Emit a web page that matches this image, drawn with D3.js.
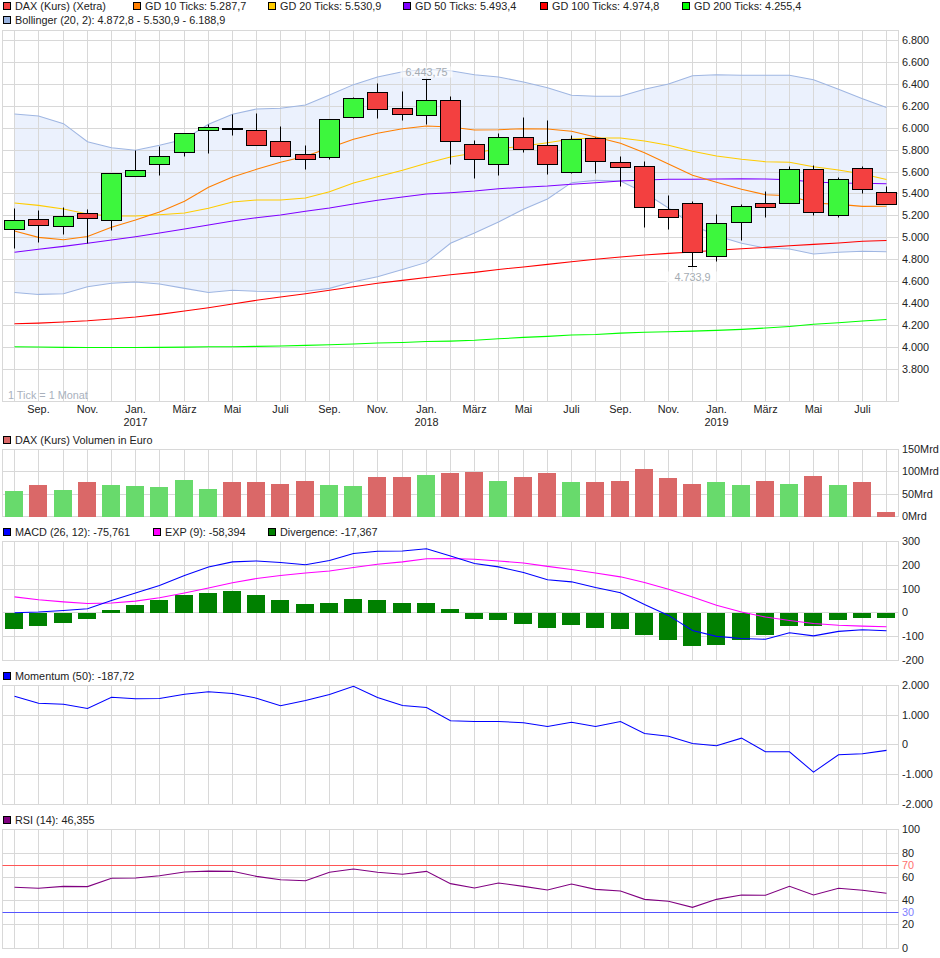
<!DOCTYPE html>
<html>
<head>
<meta charset="utf-8">
<script src="https://cdnjs.cloudflare.com/ajax/libs/d3/7.8.5/d3.min.js"></script>
<style>
  html, body { margin: 0; background: #fff; }
  svg { display: block; font-family: "Liberation Sans", Arial, sans-serif; font-size: 10.85px; }
  text { fill: #222; }
  .grid line, .grid rect { stroke: #d8d8d8; fill: none; }
  .grid text { fill: #222; font-size: 10.85px; }
  .grid .domain { display: none; }
  .linie { fill: none; stroke-width: 1.05; }
</style>
</head>
<body>
<div id="chart"></div>
<script>
// Monate (1 Tick = 1 Monat)
const monate = ["2016-08","2016-09","2016-10","2016-11","2016-12","2017-01","2017-02","2017-03","2017-04","2017-05","2017-06","2017-07","2017-08","2017-09","2017-10","2017-11","2017-12","2018-01","2018-02","2018-03","2018-04","2018-05","2018-06","2018-07","2018-08","2018-09","2018-10","2018-11","2018-12","2019-01","2019-02","2019-03","2019-04","2019-05","2019-06","2019-07","2019-08"]
const monatsNamen = { "01": "Jan.", "03": "März", "05": "Mai", "07": "Juli", "09": "Sep.", "11": "Nov." }

// Kerzen
const kursOpen = [5076,5169,5105,5223,5162,5561,5670,5780,5981,6000,5981,5880,5762,5734,6099,6327,6181,6117,6254,5853,5670,5917,5844,5597,5908,5689,5652,5260,5315,4831,5141,5315,5315,5625,5205,5634,5415]
const kursHigh = [5267,5253,5272,5260,5588,5792,5837,5953,6035,6127,6136,6011,5844,6081,6282,6409,6330,6443.75,6291,5889,5953,6099,6072,5935,5917,5743,5698,5388,5333,5217,5305,5424,5652,5661,5552,5652,5470]
const kursLow = [4907,4955,5034,4950,5065,5561,5566,5746,5767,5931,5844,5731,5621,5712,6086,6086,6068,6038,5667,5539,5566,5776,5576,5585,5585,5466,5096,5077,4733.9,4782,4980,5187,5315,5205,5187,5406,5305]
const kursClose = [5162,5114,5196,5178,5588,5616,5743,5953,6008,5991,5844,5743,5716,6081,6273,6172,6127,6254,5880,5716,5917,5807,5670,5899,5698,5643,5278,5187,4868,5132,5287,5278,5625,5232,5534,5442,5305]

// Gleitende Durchschnitte
const gd10 = [5062,5004,4982,5013,5096,5162,5235,5333,5461,5555,5625,5689,5743,5822,5899,5953,5995,6020,6011,5983,5986,5995,5992,5971,5920,5862,5776,5673,5570,5506,5442,5393,5384,5317,5305,5287,5288]
const gd20 = [5317,5296,5263,5217,5199,5199,5211,5226,5269,5326,5345,5345,5363,5420,5500,5557,5616,5680,5737,5774,5813,5837,5867,5901,5910,5910,5883,5844,5789,5746,5716,5694,5689,5649,5618,5582,5531]
const gd50 = [4868,4895,4922,4950,4980,5010,5044,5080,5117,5153,5183,5208,5242,5272,5308,5342,5372,5399,5411,5427,5448,5461,5472,5488,5503,5518,5527,5534,5534,5536,5539,5536,5530,5509,5500,5497,5493]
const gd100 = [4216,4222,4232,4243,4259,4277,4302,4332,4362,4396,4430,4460,4490,4521,4554,4585,4612,4639,4663,4685,4712,4733,4758,4782,4804,4825,4843,4858,4870,4886,4900,4913,4928,4940,4952,4968,4975]
const gd200 = [4006,4004,4001,3999,3999,3999,4001,4003,4006,4006,4010,4013,4019,4025,4031,4040,4046,4055,4058,4065,4079,4092,4101,4113,4119,4131,4138,4143,4149,4156,4165,4177,4192,4211,4225,4241,4255]

// Bollinger
const bollOben = [6129,6111,6041,5877,5822,5798,5844,5899,6035,6127,6175,6181,6211,6303,6397,6467,6515,6537,6524,6488,6467,6421,6369,6300,6291,6291,6355,6403,6479,6488,6482,6482,6482,6442,6355,6269,6189]
const bollUnten = [4502,4484,4490,4554,4585,4597,4578,4539,4502,4521,4512,4508,4512,4539,4599,4645,4712,4776,4950,5044,5144,5260,5354,5503,5524,5518,5411,5272,5117,5019,4950,4907,4898,4852,4868,4877,4873]

// Volumen in Mrd Euro
const volumen = [56,71,60,76,71,69,65,82,62,76,78,73.5,80,71,67,89,89,93.5,96,100,80,89,96,76,78,80,107,87,73.5,76,71,80,73.5,91,71,76,9]

// MACD
const macd = [0,3,10,17,52,83,115,157,192,214,218,211,202,220,249,259,260,269,239,207,193,169,139,130,106,84,35,-11,-74,-99,-108,-111,-84,-97,-78,-71,-75.8]
const expLinie = [67,55,46,39,41,49,63,83,104,126,144,157,167,176,190,204,214,227,228,225,218,209,195,182,167,151,127,99,66,32,3,-18,-32,-45,-52,-56,-58.4]
const divergenz = [-70,-57,-41,-28,10,31,52,73,85,90,73,52,35,43,56,52,43,43,14,-24,-32,-45,-62,-53,-62,-70,-95,-116,-141,-137,-116,-95,-57,-57,-32,-20,-22]

const momentum = [1635,1400,1366,1220,1600,1545,1557,1700,1780,1725,1568,1310,1490,1690,1970,1590,1320,1254,806,784,784,740,616,760,616,784,380,290,45,-34,224,-235,-235,-918,-336,-302,-188]
const rsi = [51.4,50.6,52.2,52,59,59.2,61.2,64.2,65,64.8,60.6,57.8,57,64,66.8,64,62.3,64.8,54.5,50.8,55,52.2,49.2,54.2,49.7,48.3,41.3,39.7,34.6,41.3,45,44.7,52.2,45,50.6,48.9,46.4]

// Achsen
const ticksKurs = [3800,4000,4200,4400,4600,4800,5000,5200,5400,5600,5800,6000,6200,6400,6600,6800]
const ticksVolumen = [0,50,100,150]
const ticksMacd = [-200,-100,0,100,200,300]
const ticksMomentum = [-2000,-1000,0,1000,2000]
const ticksRsi = [0,20,40,60,80,100]

// Legenden
const legendeKurs = [
    { t: "DAX (Kurs) (Xetra)", c: "#f34040", x: 3, y: 2 },
    { t: "GD 10 Ticks: 5.287,7", c: "#ff7f00", x: 133, y: 2 },
    { t: "GD 20 Ticks: 5.530,9", c: "#ffcc00", x: 268, y: 2 },
    { t: "GD 50 Ticks: 5.493,4", c: "#7f00ff", x: 403, y: 2 },
    { t: "GD 100 Ticks: 4.974,8", c: "#ff0000", x: 540, y: 2 },
    { t: "GD 200 Ticks: 4.255,4", c: "#00ff00", x: 682, y: 2 },
    { t: "Bollinger (20, 2): 4.872,8 - 5.530,9 - 6.188,9", c: "#99b3e0", x: 3, y: 16 },
]
const legendeRest = [
    { t: "DAX (Kurs) Volumen in Euro", c: "#da6868", x: 3, y: 436 },
    { t: "MACD (26, 12): -75,761", c: "#0000ff", x: 3, y: 528 },
    { t: "EXP (9): -58,394", c: "#ff00ff", x: 153, y: 528 },
    { t: "Divergence: -17,367", c: "#008000", x: 268, y: 528 },
    { t: "Momentum (50): -187,72", c: "#0000ff", x: 3, y: 672 },
    { t: "RSI (14): 46,355", c: "#800080", x: 3, y: 816 },
]

const anchoTotal = 940
const altoTotal = 958
const izquierda = 2.5
const derecha = 898.5
const snap = (v) => Math.floor(v) + 0.5
const de = d3.formatLocale({ decimal: ",", thousands: ".", grouping: [3], currency: ["", "€"], minus: "-" })
const fmt = de.format(",")

const svg = d3.select("#chart").append("svg")
    .attr("width", anchoTotal)
    .attr("height", altoTotal)

// Escaladores
const x = d3.scalePoint().domain(monate).range([14.57, 886.49])
const cx = (i) => snap(x(monate[i]))
const yKurs = d3.scaleLinear().domain([3800, 6800]).range([369.4, 40.45])
const yVol = d3.scaleLinear().domain([0, 150]).range([516.5, 449.3])
const yMacd = d3.scaleLinear().domain([-200, 300]).range([660.4, 541.4])
const yMom = d3.scaleLinear().domain([-2000, 2000]).range([804.3, 685.3])
const yRsi = d3.scaleLinear().domain([0, 100]).range([948.6, 829.4])

// Rejilla y ejes de un panel
const panel = (top, bottom, y, ticks, format, conEtiquetas) => {
    const g = svg.append("g").attr("class", "grid")
    g.append("rect")
        .attr("x", izquierda).attr("y", top)
        .attr("width", derecha - izquierda).attr("height", bottom - top)

    const yAxis = d3.axisRight(y).tickValues(ticks).tickFormat(format)
        .tickSize(-(derecha - izquierda)).tickPadding(3.5)
    g.append("g").attr("transform", `translate(${derecha},0)`).call(yAxis)
        .selectAll(".tick").attr("transform", (d) => `translate(0,${snap(y(d))})`)

    const xAxis = d3.axisBottom(x).tickSize(-(bottom - top)).tickPadding(3.5)
        .tickFormat((d) => conEtiquetas ? (monatsNamen[d.slice(5)] || "") : "")
    g.append("g").attr("transform", `translate(0,${bottom})`).call(xAxis)
        .selectAll(".tick").attr("transform", (d) => `translate(${snap(x(d))},0)`)
}

const dibujaLinea = (valores, y, color) => {
    const line = d3.line().x((d, i) => cx(i)).y((d) => y(d))
    svg.append("path")
        .attr("class", "linie")
        .attr("d", line(valores))
        .attr("stroke", color)
}

const dibujaLeyenda = (items) => {
    const l = svg.append("g").selectAll("g").data(items).enter().append("g")
    l.append("rect")
        .attr("x", (d) => d.x + 0.5).attr("y", (d) => d.y + 0.5)
        .attr("width", 7).attr("height", 7)
        .attr("fill", (d) => d.c).attr("stroke", "#000")
    l.append("text")
        .attr("x", (d) => d.x + 12).attr("y", (d) => d.y + 8)
        .text((d) => d.t)
}

// Banda de Bollinger debajo de la rejilla
const band = d3.area().x((d, i) => cx(i)).y0((d, i) => yKurs(bollUnten[i])).y1((d) => yKurs(d))
svg.append("path").attr("d", band(bollOben)).attr("fill", "#ebf1fd")

panel(30.5, 401.5, yKurs, ticksKurs, fmt, true)
panel(449.5, 516.5, yVol, ticksVolumen, (d) => d + "Mrd", false)
panel(541.5, 660.5, yMacd, ticksMacd, fmt, false)
panel(685.5, 804.5, yMom, ticksMomentum, fmt, false)
panel(829.5, 948.5, yRsi, ticksRsi, fmt, false)

// Años debajo de enero
svg.append("g").selectAll("text")
    .data(monate.filter((d) => d.endsWith("-01")))
    .enter().append("text")
    .attr("x", (d) => snap(x(d)))
    .attr("y", 426)
    .attr("text-anchor", "middle")
    .text((d) => d.slice(0, 4))

// Bollinger y medias
dibujaLinea(bollOben, yKurs, "#9fb6e2")
dibujaLinea(bollUnten, yKurs, "#9fb6e2")
dibujaLinea(gd200, yKurs, "#00ff00")
dibujaLinea(gd100, yKurs, "#ff0000")
dibujaLinea(gd50, yKurs, "#7f00ff")
dibujaLinea(gd20, yKurs, "#ffcc00")
dibujaLinea(gd10, yKurs, "#ff7f00")

// Velas
const velas = svg.append("g").selectAll("g").data(monate).enter().append("g")
velas.append("line")
    .attr("x1", (d, i) => cx(i)).attr("x2", (d, i) => cx(i))
    .attr("y1", (d, i) => snap(yKurs(kursHigh[i])))
    .attr("y2", (d, i) => snap(yKurs(kursLow[i])))
    .attr("stroke", "#000")
velas.append("rect")
    .attr("x", (d, i) => cx(i) - 10)
    .attr("width", 20)
    .attr("y", (d, i) => snap(yKurs(Math.max(kursOpen[i], kursClose[i]))))
    .attr("height", (d, i) => Math.round(yKurs(Math.min(kursOpen[i], kursClose[i])) - yKurs(Math.max(kursOpen[i], kursClose[i]))))
    .attr("fill", (d, i) => kursClose[i] > kursOpen[i] ? "#3df73d" : "#f34040")
    .attr("stroke", "#000")

// Máximo y mínimo
const iMax = d3.maxIndex(kursHigh)
const iMin = d3.minIndex(kursLow)
const extremos = [
    { i: iMax, v: kursHigh[iMax], label: de.format(",.2f")(kursHigh[iMax]), dy: -4 },
    { i: iMin, v: kursLow[iMin], label: de.format(",.1f")(kursLow[iMin]), dy: 14 },
]
extremos.forEach((e) => {
    const yv = snap(yKurs(e.v))
    svg.append("line")
        .attr("x1", cx(e.i) - 4.5).attr("x2", cx(e.i) + 4.5)
        .attr("y1", yv).attr("y2", yv)
        .attr("stroke", "#000")
    svg.append("rect")
        .attr("x", cx(e.i) - 26).attr("width", 52)
        .attr("y", yv + e.dy - 9).attr("height", 11)
        .attr("fill", "#fff").attr("opacity", 0.6)
    svg.append("text")
        .attr("x", cx(e.i)).attr("y", yv + e.dy)
        .attr("text-anchor", "middle")
        .style("fill", "#a4abb2")
        .text(e.label)
})

svg.append("text")
    .attr("x", 8).attr("y", 399)
    .style("fill", "#a9b1bd")
    .text("1 Tick = 1 Monat")

// Volumen
svg.append("g").selectAll("rect").data(volumen).enter().append("rect")
    .attr("x", (d, i) => cx(i) - 9.5)
    .attr("width", 18)
    .attr("y", (d) => Math.round(yVol(d)))
    .attr("height", (d) => 517 - Math.round(yVol(d)))
    .attr("fill", (d, i) => kursClose[i] > kursOpen[i] ? "#68da6c" : "#da6868")

// MACD
const cero = Math.round(yMacd(0))
svg.append("g").selectAll("rect").data(divergenz).enter().append("rect")
    .attr("x", (d, i) => cx(i) - 9.5)
    .attr("width", 18)
    .attr("y", (d) => Math.min(cero, Math.round(yMacd(d))))
    .attr("height", (d) => Math.abs(Math.round(yMacd(d)) - cero))
    .attr("fill", "#008000")
dibujaLinea(expLinie, yMacd, "#ff00ff")
dibujaLinea(macd, yMacd, "#0000ff")

// Momentum
dibujaLinea(momentum, yMom, "#0000ff")

// RSI con líneas 70 y 30
const rsiLineas = [{ v: 70, c: "#ff5555", t: "#ff7070" }, { v: 30, c: "#5555ff", t: "#8080ff" }]
rsiLineas.forEach((r) => {
    svg.append("line")
        .attr("x1", izquierda).attr("x2", derecha)
        .attr("y1", snap(yRsi(r.v))).attr("y2", snap(yRsi(r.v)))
        .attr("stroke", r.c)
    svg.append("text")
        .attr("x", 902).attr("y", snap(yRsi(r.v)))
        .attr("dy", "0.32em")
        .style("fill", r.t)
        .text(r.v)
})
dibujaLinea(rsi, yRsi, "#800080")

dibujaLeyenda(legendeKurs)
dibujaLeyenda(legendeRest)
</script>
</body>
</html>
